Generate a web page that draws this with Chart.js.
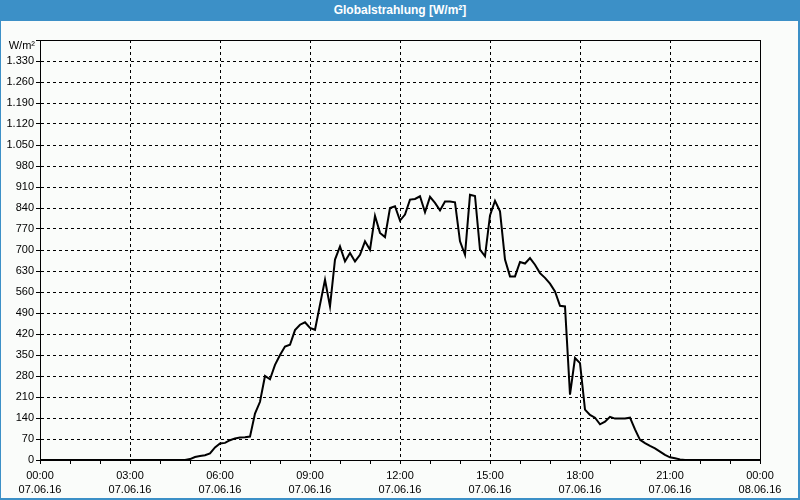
<!DOCTYPE html>
<html>
<head>
<meta charset="utf-8">
<script src="https://cdn.jsdelivr.net/npm/chart.js@4"></script>
<style>
    html, body { margin: 0; padding: 0; }
    body { width: 800px; height: 500px; position: relative; background: #fafcfa; overflow: hidden; font-family: "Liberation Sans", Arial, sans-serif; }
    #titleBar { position: absolute; left: 0; top: 0; width: 800px; height: 21px; background: #3c90c7; color: #fff; font: bold 12px "Liberation Sans Narrow", "Liberation Sans", Arial, sans-serif; text-align: center; line-height: 21px; }
    #frame { position: absolute; left: 0; top: 0; width: 797px; height: 498px; border-left: 1px solid #3c90c7; border-right: 2px solid #3c90c7; border-bottom: 2px solid #3c90c7; }
    #chartBox { position: absolute; left: 0; top: 0; width: 800px; height: 500px; }
</style>
</head>
<body>
<div id="titleBar">Globalstrahlung [W/m²]</div>
<div id="frame"></div>
<div id="chartBox"><canvas id="chart" width="800" height="500"></canvas></div>
<script>
// Tick labels on the time axis (every 3 hours)
const tickTimes = ["00:00", "03:00", "06:00", "09:00", "12:00", "15:00", "18:00", "21:00", "00:00"];
const tickDates = ["07.06.16", "07.06.16", "07.06.16", "07.06.16", "07.06.16", "07.06.16", "07.06.16", "07.06.16", "08.06.16"];

// Global radiation, one value every 10 minutes, 00:00 .. 24:00 (W/m²)
const radiation = [
    0, 0, 0, 0, 0, 0,             // 00
    0, 0, 0, 0, 0, 0,             // 01
    0, 0, 0, 0, 0, 0,             // 02
    0, 0, 0, 0, 0, 0,             // 03
    0, 0, 0, 0, 0, 0,             // 04
    3, 10, 13, 16, 22, 42,        // 05
    55, 57, 66, 72, 75, 76,       // 06
    78, 155, 194, 280, 269, 317,  // 07
    350, 378, 384, 433, 451, 459, // 08
    440, 434, 518, 601, 512, 668, // 09
    712, 662, 690, 662, 684, 729, // 10
    701, 814, 757, 743, 840, 846, // 11
    798, 818, 868, 870, 879, 826, // 12
    877, 857, 832, 862, 862, 859, // 13
    729, 684, 884, 880, 701, 679, // 14
    815, 864, 829, 668, 612, 612, // 15
    660, 655, 673, 651, 623, 607, // 16
    588, 562, 514, 512, 218, 340, // 17
    323, 168, 150, 141, 119, 128, // 18
    144, 138, 138, 138, 141, 102, // 19
    67, 56, 47, 39, 28, 17,       // 20
    9, 6, 2, 0, 0, 0,             // 21
    0, 0, 0, 0, 0, 0,             // 22
    0, 0, 0, 0, 0, 0,             // 23
    0                             // 24
];

// y axis
const yMax = 1400;
const yStep = 70;
const yUnit = "W/m²";

// one category per 10 minute slot
const slots = radiation.map((v, i) => String(i));

const fontSpec = { family: "'Liberation Sans', Arial, sans-serif", size: 11 };

function formatDe(n) {
    return String(n).replace(/\B(?=(\d{3})+(?!\d))/g, ".");
}

// frame round the plot area + unit label
const framePlugin = {
    id: "frame",
    afterDraw(chart) {
        const { ctx, chartArea } = chart;
        ctx.save();
        ctx.strokeStyle = "#000";
        ctx.lineWidth = 1;
        ctx.strokeRect(Math.round(chartArea.left) + 0.5, Math.round(chartArea.top) + 0.5,
            Math.round(chartArea.right - chartArea.left), Math.round(chartArea.bottom - chartArea.top));
        ctx.fillStyle = "#000";
        ctx.font = "11px 'Liberation Sans', Arial, sans-serif";
        ctx.textAlign = "right";
        ctx.textBaseline = "middle";
        ctx.fillText(yUnit, chartArea.left - 5, chartArea.top + 6);
        ctx.restore();
    }
};

const ctx = document.getElementById("chart").getContext("2d");
const chart = new Chart(ctx, {
    type: "line",
    data: {
        labels: slots,
        datasets: [{
            data: radiation,
            borderColor: "#000",
            borderWidth: 2,
            pointRadius: 0,
            tension: 0,
            fill: false
        }]
    },
    options: {
        responsive: false,
        animation: false,
        layout: { padding: { left: 0, right: 40, top: 40, bottom: 0 } },
        plugins: { legend: { display: false }, tooltip: { enabled: false } },
        scales: {
            x: {
                type: "category",
                offset: false,
                afterFit: s => { s.height = 40; },
                border: { display: true, color: "#000", width: 1, dash: [3, 3] },
                grid: {
                    drawOnChartArea: true,
                    color: c => (c.index % 18 === 0 && c.index > 0 && c.index < 144) ? "#000" : "rgba(0,0,0,0)",
                    tickColor: c => c.index % 6 === 0 ? "#000" : "rgba(0,0,0,0)",
                    tickLength: 4,
                    tickBorderDash: [],
                    lineWidth: 1
                },
                ticks: {
                    autoSkip: false,
                    maxRotation: 0,
                    minRotation: 0,
                    padding: 5,
                    color: "#000",
                    font: { ...fontSpec, lineHeight: 1.3 },
                    callback: (v, i) => i % 18 === 0 ? [tickTimes[i / 18], tickDates[i / 18]] : ""
                }
            },
            y: {
                min: 0,
                max: yMax,
                afterFit: s => { s.width = 40; },
                border: { display: true, color: "#000", width: 1, dash: [3, 3] },
                grid: {
                    color: c => (c.tick && c.tick.value > 0 && c.tick.value < yMax) ? "#000" : "rgba(0,0,0,0)",
                    tickColor: "#000",
                    tickLength: 4,
                    tickBorderDash: [],
                    lineWidth: 1
                },
                ticks: {
                    stepSize: yStep,
                    padding: 2,
                    color: "#000",
                    font: fontSpec,
                    callback: v => v === yMax ? "" : formatDe(v)
                }
            }
        }
    },
    plugins: [framePlugin]
});
</script>
</body>
</html>
